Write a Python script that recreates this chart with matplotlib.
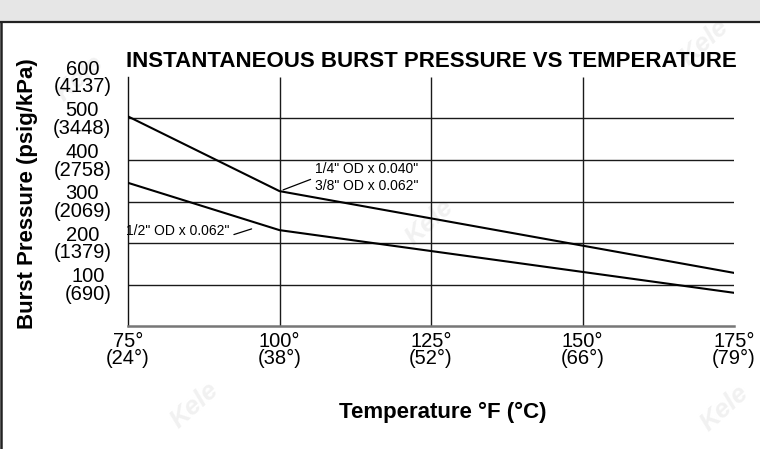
import matplotlib
matplotlib.use("Agg")
import matplotlib.pyplot as plt
from matplotlib.patches import Rectangle
from matplotlib.lines import Line2D

plt.rcParams['font.family'] = ['Liberation Sans', 'DejaVu Sans']

# ---- data ----
temps_f = [75, 100, 125, 150, 175]
temps_c = [24, 38, 52, 66, 79]
psig_ticks = [100, 200, 300, 400, 500, 600]
kpa_ticks = [690, 1379, 2069, 2758, 3448, 4137]

small_tube_temps = [75, 100, 175]
small_tube_psig = [505, 325, 128]      # 1/4" OD x 0.040", 3/8" OD x 0.062"
large_tube_temps = [75, 100, 175]
large_tube_psig = [345, 231, 80]       # 1/2" OD x 0.062"

label_small = '1/4" OD x 0.040"\n3/8" OD x 0.062"'
label_large = '1/2" OD x 0.062"'
title = "INSTANTANEOUS BURST PRESSURE VS TEMPERATURE"
xlabel = "Temperature \u00b0F (\u00b0C)"
ylabel = "Burst Pressure (psig/kPa)"

W, H = 760, 449
fig = plt.figure(figsize=(W / 100, H / 100), dpi=100)
fig.patch.set_facecolor('white')

# header band and frame
fig.add_artist(Rectangle((0, 1 - 21 / H), 1, 21 / H, transform=fig.transFigure,
                         facecolor='#e6e6e6', edgecolor='none', zorder=-5))
fig.add_artist(Line2D([0, 1], [1 - 22 / H, 1 - 22 / H], transform=fig.transFigure,
                      color='#222222', lw=1.6))
fig.add_artist(Line2D([1.2 / W, 1.2 / W], [0, 1 - 22 / H], transform=fig.transFigure,
                      color='#222222', lw=1.8))

# watermarks
for (px, py) in [(705, 42), (430, 222), (195, 405), (725, 408), (80, 78)]:
    fig.text(px / W, 1 - py / H, "Kele", fontsize=19, fontstyle='italic', fontweight='bold',
             color='#f1f1f1', rotation=42, ha='center', va='center', zorder=-2)

L, R, T, B = 128, 734, 77, 326
ax = fig.add_axes([L / W, 1 - B / H, (R - L) / W, (B - T) / H])
ax.set_facecolor('none')
ax.set_xlim(75, 175)
ax.set_ylim(0, 600)

# grid
ax.hlines(psig_ticks[:-1], 75, 175, color='#1a1a1a', lw=1.0, zorder=1)
ax.vlines(temps_f[1:-1], 0, 600, color='#1a1a1a', lw=1.0, zorder=1)

ax.plot(small_tube_temps, small_tube_psig, color='black', lw=1.5, zorder=3)
ax.plot(large_tube_temps, large_tube_psig, color='black', lw=1.5, zorder=3)

for s in ['top', 'right']:
    ax.spines[s].set_visible(False)
ax.spines['left'].set_color('#111111')
ax.spines['left'].set_linewidth(1.0)
ax.spines['bottom'].set_color('#777777')
ax.spines['bottom'].set_linewidth(1.8)

ax.set_xticks(temps_f)
ax.set_xticklabels([f"{f}\u00b0\n({c}\u00b0)" for f, c in zip(temps_f, temps_c)],
                   fontsize=14.5, linespacing=0.9)
ax.set_yticks(psig_ticks)
ax.set_yticklabels([f"{p}\n({k})" for p, k in zip(psig_ticks, kpa_ticks)],
                   fontsize=14.5, linespacing=0.9)
for t in ax.get_yticklabels():
    t.set_multialignment('center')
for t in ax.get_xticklabels():
    t.set_multialignment('center')
ax.tick_params(axis='both', length=0)
ax.tick_params(axis='y', pad=12)
ax.tick_params(axis='x', pad=4)

ax.set_title(title, fontsize=16, fontweight='bold', pad=7)
ax.set_xlabel(xlabel, fontsize=16, fontweight='bold')
ax.xaxis.set_label_coords(0.52, -0.305)
ax.set_ylabel(ylabel, fontsize=16, fontweight='bold')
ax.yaxis.set_label_coords(-0.148, 0.53)

ax.annotate(label_small, xy=(100.6, 328), xytext=(105.8, 357), fontsize=10,
            ha='left', va='center', linespacing=1.25,
            arrowprops=dict(arrowstyle='-', color='black', lw=0.9,
                            shrinkA=1, shrinkB=0, relpos=(0, 0.5)))
ax.annotate(label_large, xy=(95.4, 234), xytext=(91.8, 229), fontsize=10,
            ha='right', va='center',
            arrowprops=dict(arrowstyle='-', color='black', lw=0.9,
                            shrinkA=1, shrinkB=0, relpos=(1.0, 0.15)))

fig.savefig("out.png", dpi=100)
